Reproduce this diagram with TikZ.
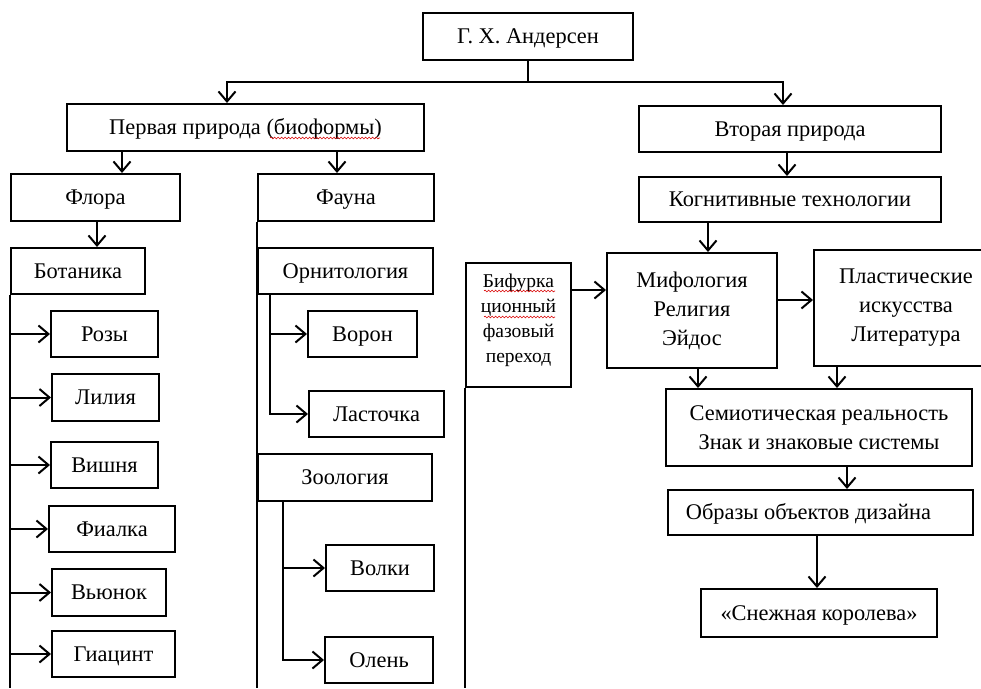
\documentclass[tikz,border=0pt]{standalone}
\usepackage{fontspec}
\setmainfont{Liberation Serif}
\usetikzlibrary{arrows.meta,decorations.pathmorphing}
\begin{document}
\begin{tikzpicture}[x=1pt,y=-1pt,
 box/.style={draw, line width=2pt, inner sep=0pt, font=\fontsize{22.4}{29}\selectfont, align=center},
 one/.style={text height=17pt, text depth=3pt},
 sz/.style 2 args={minimum width=#1pt, minimum height=#2pt},
 arr/.style={line width=2pt, -{Straight Barb[length=10pt,width=17pt]}},
 ln/.style={line width=2pt},
 small/.style={font=\fontsize{19.5}{25}\selectfont},
 wavy/.style={red!85!black, line width=0.6pt, decorate, decoration={snake, amplitude=0.9pt, segment length=3.5pt}}
]
\useasboundingbox (0,0) rectangle (981,688);
% nodes
\node[box, one, sz={210}{47}] (and) at (528,36.5) {Г. Х. Андерсен};
\node[box, one, sz={357}{47}] (p1) at (245.5,127.5) {Первая природа (биоформы)};
\node[box, one, sz={302}{46}] (p2) at (790,129) {Вторая природа};
\node[box, one, sz={169}{47}] (flora) at (95.5,197.5) {Флора};
\node[box, one, sz={176}{47}] (fauna) at (346,197.5) {Фауна};
\node[box, one, sz={134}{46}] (bot) at (78,271) {Ботаника};
\node[box, one, sz={175}{46}] (orn) at (345.5,271) {Орнитология};
\node[box, one, sz={107}{46}] (rozy) at (104.5,334) {Розы};
\node[box, one, sz={107}{47}] (lil) at (105.5,397.5) {Лилия};
\node[box, one, sz={107}{46}] (vish) at (104.5,465) {Вишня};
\node[box, one, sz={126}{46}] (fial) at (112,529) {Фиалка};
\node[box, one, sz={114}{47}] (vyun) at (109,592.5) {Вьюнок};
\node[box, one, sz={123}{46}] (giac) at (113.5,654) {Гиацинт};
\node[box, one, sz={109}{46}] (voron) at (362.5,334) {Ворон};
\node[box, one, sz={135}{46}] (last) at (376.5,414) {Ласточка};
\node[box, one, sz={174}{47}] (zool) at (345,477.5) {Зоология};
\node[box, one, sz={108}{46}] (volki) at (380,568) {Волки};
\node[box, one, sz={108}{46}] (olen) at (379,660) {Олень};
\node[box, one, sz={302}{45}] (kogn) at (790,199.5) {Когнитивные технологии};
\node[box, small, sz={105}{124}] (bif) at (518.5,325) {Бифурка\\ционный\\фазовый\\переход\\[-12pt]\mbox{}};
\node[box, sz={170}{115}] (mif) at (692,310.5) {Мифология\\Религия\\Эйдос};
\node[box, sz={184}{116}] (plast) at (906,308) {Пластические\\искусства\\Литература};
\node[box, sz={306}{77}] (semio) at (819,427.5) {Семиотическая реальность\\Знак и знаковые системы};
\node[box, one, sz={305}{45}] (obraz) at (820.5,512.5) {Образы объектов дизайна\hspace*{24pt}};
\node[box, one, sz={236}{48}] (snow) at (819,613) {«Снежная королева»};
% spell-check marks
\draw[wavy] (270,138) -- (380,138);
\draw[wavy] (484,291) -- (555,291);
\draw[wavy] (484,317) -- (555,317);
% connectors
\coordinate (j) at (and.south |- 0,82);
\draw[ln] (and.south) -- (j);
\draw[arr] (j) -| (p1.north -| 227,0);
\draw[arr] (j) -| (p2.north -| 783,0);
\draw[arr] (p1.south -| 122,0) -- (flora.north -| 122,0);
\draw[arr] (p1.south -| 337,0) -- (fauna.north -| 337,0);
\draw[arr] (flora.south -| 97,0) -- (bot.north -| 97,0);
\draw[ln] (bot.south west) -- (bot.south west |- 0,688);
\foreach \n in {rozy,lil,vish,fial,vyun,giac}
  \draw[arr] (\n.west -| bot.west) -- (\n.west);
\draw[ln] (fauna.south west) -- (fauna.south west |- 0,688);
\draw[arr] (orn.south -| 270,0) |- (last.west);
\draw[arr] (voron.west -| 270,0) -- (voron.west);
\draw[arr] (zool.south -| 283,0) |- (olen.west);
\draw[arr] (volki.west -| 283,0) -- (volki.west);
\draw[ln] (bif.south west) -- (bif.south west |- 0,688);
\draw[arr] (p2.south -| 787,0) -- (kogn.north -| 787,0);
\draw[arr] (kogn.south -| 708,0) -- (mif.north -| 708,0);
\draw[arr] (bif.east |- 0,290) -- (mif.west |- 0,290);
\draw[arr] (mif.east |- 0,300) -- (plast.west |- 0,300);
\draw[arr] (mif.south -| 698,0) -- (semio.north -| 698,0);
\draw[arr] (plast.south -| 837,0) -- (semio.north -| 837,0);
\draw[arr] (semio.south -| 847,0) -- (obraz.north -| 847,0);
\draw[arr] (obraz.south -| 817,0) -- (snow.north -| 817,0);
\end{tikzpicture}
\end{document}
